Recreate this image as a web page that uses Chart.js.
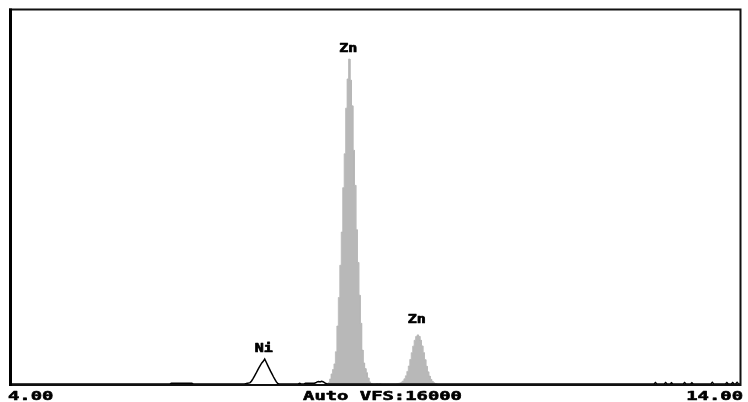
<!DOCTYPE html>
<html>
<head>
<meta charset="utf-8">
<script src="https://cdn.jsdelivr.net/npm/chart.js@4/dist/chart.umd.min.js"></script>
<style>
  html, body { margin: 0; padding: 0; background: #ffffff; }
  #wrap { width: 748px; height: 402px; }
</style>
</head>
<body>
<div id="wrap"><canvas id="spectrum" width="748" height="402"></canvas></div>
<script>
// Energy window (keV) and vertical full scale (counts)
const energyMin = 4.00;
const energyMax = 14.00;
const fullScale = 16000;

// Zn window: channel counts, 0.02 keV per channel, first channel at 8.30 keV
const channelWidth = 0.02;
const znStart = 8.30;
const znCounts = [
  0, 0, 15, 60, 210, 430, 620, 860, 1380, 2480,
  3700, 5080, 6500, 8400, 9850, 11800, 13050, 13900, 13000, 11900,
  10000, 8500, 6600, 5200, 3800, 2600, 1450, 900, 660, 480,
  260, 90, 25, 0, 0, 0, 20, 0, 20, 0,
  0, 0, 0, 0, 0, 0, 0, 0, 0, 0,
  10, 25, 45, 80, 130, 220, 350, 540, 770, 1050,
  1340, 1620, 1870, 2030, 2100, 2040, 1870, 1630, 1340, 1040,
  760, 520, 340, 200, 110, 50, 15, 0
];

// Remaining spectrum outside the Zn window, traced as a line
const lineEnergy = [
  4.00, 6.18, 6.20, 6.48, 6.50,
  7.20, 7.22, 7.24, 7.26, 7.28, 7.30, 7.32, 7.34, 7.36, 7.38, 7.40, 7.42, 7.44, 7.46, 7.48,
  7.50, 7.52, 7.54, 7.56, 7.58, 7.60, 7.62, 7.64, 7.66, 7.68,
  7.94, 7.96, 7.98,
  8.02, 8.04, 8.16, 8.18, 8.20, 8.22, 8.24, 8.26, 8.28, 8.30, 8.32, 8.34,
  12.82, 12.84, 12.86, 12.96, 12.98, 13.00, 13.04, 13.06, 13.08,
  13.22, 13.24, 13.26, 13.32, 13.34, 13.36, 13.60, 13.62, 13.64,
  13.80, 13.82, 13.84, 13.88, 13.90, 13.92, 13.94, 13.96, 13.98, 14.00
];
const lineCounts = [
  0, 0, 30, 30, 0,
  0, 15, 30, 40, 60, 130, 230, 340, 450, 570, 690, 800, 900, 970, 1070,
  940, 810, 680, 550, 430, 310, 200, 90, 20, 0,
  0, 30, 0,
  0, 30, 30, 50, 90, 110, 90, 120, 100, 60, 20, 0,
  0, 60, 0, 0, 60, 0, 0, 50, 0,
  0, 60, 0, 0, 50, 0, 0, 70, 0,
  0, 60, 0, 0, 60, 0, 0, 70, 0, 0
];

// Element line markers
const peakNames = ['Ni', 'Zn', 'Zn'];
const peakEnergy = [7.48, 8.64, 9.58];
const peakCounts = [1070, 13900, 2300];

// Each channel becomes a flat step spanning its own width
const znPoints = [];
znCounts.forEach((c, i) => {
  const e = znStart + i * channelWidth;
  znPoints.push({ x: e - channelWidth / 2, y: c });
  znPoints.push({ x: e + channelWidth / 2, y: c });
});
const linePoints = lineEnergy.map((e, i) => ({ x: e, y: lineCounts[i] }));

function wideText(ctx, text, x, y, size, stretch, align, weight) {
  ctx.save();
  ctx.font = 'bold ' + size + 'px "DejaVu Sans Mono"';
  const w = ctx.measureText(text).width * stretch;
  const left = align === 'left' ? x : (align === 'right' ? x - w : x - w / 2);
  ctx.translate(left, y);
  ctx.scale(stretch, 1);
  ctx.textAlign = 'left';
  ctx.textBaseline = 'alphabetic';
  ctx.fillStyle = '#000000';
  ctx.strokeStyle = '#000000';
  ctx.lineWidth = weight;
  ctx.lineJoin = 'round';
  ctx.fillText(text, 0, 0);
  if (weight > 0) ctx.strokeText(text, 0, 0);
  ctx.restore();
}

const framePlugin = {
  id: 'frameAndLabels',
  afterDatasetsDraw(chart) {
    const ctx = chart.ctx;
    const a = chart.chartArea;
    const xs = chart.scales.x;
    const ys = chart.scales.y;
    ctx.save();
    ctx.strokeStyle = '#111111';
    ctx.lineWidth = 2;
    ctx.beginPath();
    ctx.moveTo(a.left - 1, a.top - 0.5);
    ctx.lineTo(a.right + 0.5, a.top - 0.5);
    ctx.lineTo(a.right + 0.5, a.bottom + 1);
    ctx.lineTo(a.left - 1, a.bottom + 1);
    ctx.closePath();
    ctx.stroke();
    ctx.lineWidth = 3;
    ctx.strokeStyle = '#000000';
    ctx.beginPath();
    ctx.moveTo(a.left - 0.5, a.top - 1.5);
    ctx.lineTo(a.left - 0.5, a.bottom + 2);
    ctx.stroke();
    ctx.restore();

    // element labels above their peaks
    peakNames.forEach((name, i) => {
      const px = xs.getPixelForValue(peakEnergy[i]);
      const py = ys.getPixelForValue(peakCounts[i]);
      wideText(ctx, name, px - 1, py - 7, 12, 1.25, 'center', 0.7);
    });

    // window limits and vertical full scale
    const base = a.bottom + 16;
    wideText(ctx, energyMin.toFixed(2), a.left - 3, base, 13, 1.45, 'left', 0.6);
    wideText(ctx, energyMax.toFixed(2), a.right + 3, base, 13, 1.45, 'right', 0.6);
    wideText(ctx, 'Auto VFS:' + fullScale, (a.left + a.right) / 2 + 7, base, 13, 1.45, 'center', 0.6);
  }
};

new Chart(document.getElementById('spectrum'), {
  type: 'scatter',
  data: {
    datasets: [
      {
        label: 'spectrum',
        data: linePoints,
        showLine: true,
        borderColor: '#000000',
        borderWidth: 1.5,
        pointRadius: 0,
        fill: false,
        order: 0
      },
      {
        label: 'Zn',
        data: znPoints,
        showLine: true,
        borderColor: '#b8b8b8',
        borderWidth: 0.8,
        backgroundColor: '#b8b8b8',
        pointRadius: 0,
        fill: 'origin',
        order: 1
      }
    ]
  },
  options: {
    responsive: false,
    devicePixelRatio: 1,
    animation: false,
    layout: { padding: { left: 11, right: 8, top: 10, bottom: 18 } },
    plugins: { legend: { display: false }, tooltip: { enabled: false } },
    scales: {
      x: { type: 'linear', min: energyMin, max: energyMax, display: false },
      y: { type: 'linear', min: 0, max: fullScale, display: false }
    }
  },
  plugins: [framePlugin]
});
</script>
</body>
</html>
